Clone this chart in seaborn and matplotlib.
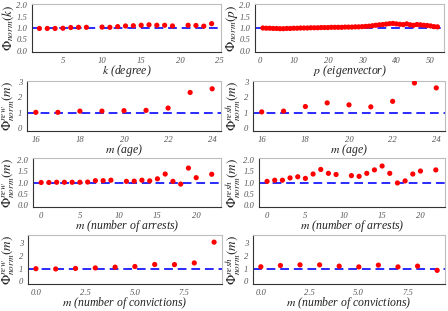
import numpy as np
import pandas as pd
import matplotlib
matplotlib.use("Agg")
import matplotlib.pyplot as plt
import seaborn as sns

# ---------------- data ----------------
k_deg = [2, 3, 4, 5, 6, 7, 8, 10, 11, 12, 13, 14, 15, 16, 17, 18, 19, 21, 22, 23, 24]
phi_k = [0.98, 0.98, 0.98, 0.99, 1.02, 1.03, 1.03, 1.04, 1.03, 1.06, 1.09, 1.10, 1.12,
         1.14, 1.12, 1.12, 1.09, 1.12, 1.11, 1.08, 1.19]

p_eig = list(range(1, 53))
phi_p = [1.00, 0.99, 0.99, 0.98, 0.98, 0.97, 0.97, 0.98, 0.98, 0.99, 0.99, 1.00, 1.00,
         1.00, 1.01, 1.01, 1.01, 1.02, 1.02, 1.02, 1.03, 1.03, 1.03, 1.03, 1.04, 1.04,
         1.04, 1.05, 1.05, 1.06, 1.07, 1.08, 1.10, 1.12, 1.14, 1.15, 1.17, 1.19, 1.20,
         1.18, 1.16, 1.15, 1.18, 1.14, 1.12, 1.15, 1.14, 1.12, 1.11, 1.09, 1.06, 1.05]

m_age = [16, 17, 18, 19, 20, 21, 22, 23, 24]
rew_age = [1.02, 1.02, 1.10, 1.10, 1.13, 1.15, 1.30, 2.32, 2.56]
resh_age = [1.05, 1.10, 1.40, 1.64, 1.51, 1.38, 1.74, 2.94, 2.62]

m_arr = [0, 1, 2, 3, 4, 5, 6, 7, 8, 9, 11, 12, 13, 14, 15, 16, 17, 18, 19, 20, 22]
rew_arr = [1.00, 1.00, 1.01, 1.01, 1.01, 1.01, 1.02, 1.08, 1.08, 1.10, 1.05, 1.06, 1.10,
           1.07, 1.16, 1.37, 1.05, 0.93, 1.63, 1.21, 1.36]
resh_arr = [1.05, 1.10, 1.10, 1.20, 1.25, 1.18, 1.37, 1.57, 1.40, 1.35, 1.30, 1.27, 1.40,
            1.55, 1.72, 1.40, 0.98, 1.07, 1.37, 1.50, 1.55]

m_conv = [0, 1, 2, 3, 4, 5, 6, 7, 8, 9]
rew_conv = [1.00, 0.98, 1.02, 1.06, 1.12, 1.17, 1.33, 1.32, 1.45, 3.08]
resh_conv = [1.15, 1.25, 1.30, 1.30, 1.20, 1.14, 1.28, 1.14, 1.20, 0.87]

# ---------------- style ----------------
sns.set_style("white")
plt.rcParams["font.family"] = ["Liberation Serif", "DejaVu Serif"]
plt.rcParams["mathtext.fontset"] = "stix"

W, H = 448, 311
fig = plt.figure(figsize=(W / 100, H / 100), dpi=100)

def add_ax(left, top, right, bottom):
    return fig.add_axes([left / W, 1 - bottom / H, (right - left) / W, (bottom - top) / H])

panels = [
    # x, y, xlabel, ylabel, box, xlim, ylim, xticks, yticks, fmt, label-x
    (k_deg, phi_k, r"$k$ (degree)", r"$\Phi_{norm}(k)$", (32, 4, 221, 52),
     (1.05, 25.2), (-0.05, 2.05), [5, 10, 15, 20, 25], [0.0, 0.5, 1.0, 1.5, 2.0], "{:.1f}", 8),
    (p_eig, phi_p, r"$p$ (eigenvector)", r"$\Phi_{norm}(p)$", (255, 4, 444, 52),
     (-1.3, 53.9), (-0.05, 2.05), [0, 10, 20, 30, 40, 50], [0.0, 0.5, 1.0, 1.5, 2.0], "{:.1f}", 232),
    (m_age, rew_age, r"$m$ (age)", r"$\Phi^{rew}_{norm}(m)$", (27, 81, 221, 131),
     (15.6, 24.4), (-0.2, 3.07), [16, 18, 20, 22, 24], [0, 1, 2, 3], "{:.0f}", 9),
    (m_age, resh_age, r"$m$ (age)", r"$\Phi^{resh}_{norm}(m)$", (253, 81, 445, 131),
     (15.6, 24.4), (-0.2, 3.07), [16, 18, 20, 22, 24], [0, 1, 2, 3], "{:.0f}", 233),
    (m_arr, rew_arr, r"$m$ (number of arrests)", r"$\Phi^{rew}_{norm}(m)$", (33, 158, 221, 207),
     (-1.05, 23.2), (-0.07, 2.07), [0, 5, 10, 15, 20], [0.0, 0.5, 1.0, 1.5, 2.0], "{:.1f}", 9),
    (m_arr, resh_arr, r"$m$ (number of arrests)", r"$\Phi^{resh}_{norm}(m)$", (259, 158, 445, 207),
     (-1.05, 23.2), (-0.07, 2.07), [0, 5, 10, 15, 20], [0.0, 0.5, 1.0, 1.5, 2.0], "{:.1f}", 233),
    (m_conv, rew_conv, r"$m$ (number of convictions)", r"$\Phi^{rew}_{norm}(m)$", (28, 235, 222, 284),
     (-0.4, 9.4), (-0.2, 3.64), [0.0, 2.5, 5.0, 7.5], [0, 1, 2, 3], "{:.0f}", 9),
    (m_conv, resh_conv, r"$m$ (number of convictions)", r"$\Phi^{resh}_{norm}(m)$", (253, 235, 445, 284),
     (-0.4, 9.4), (-0.2, 3.64), [0.0, 2.5, 5.0, 7.5], [0, 1, 2, 3], "{:.0f}", 233),
]

dark = "#333333"
light = "#bdbdbd"
for (xs, ys, xl, yl, box, xlim, ylim, xt, yt, yfmt, lx) in panels:
    ax = add_ax(*box[:4])
    ax.axhline(1.0, color="#2a2aff", lw=1.4, ls=(0, (4.5, 2.5)), zorder=1)
    df = pd.DataFrame({"x": xs, "y": ys})
    sns.scatterplot(data=df, x="x", y="y", ax=ax, color="#ff0000", s=14,
                    edgecolor="none", linewidth=0, zorder=3)
    ax.set_xlim(*xlim)
    ax.set_ylim(*ylim)
    ax.set_xticks(xt)
    if isinstance(xt[0], float):
        ax.set_xticklabels([f"{v:.1f}" for v in xt])
    else:
        ax.set_xticklabels([str(v) for v in xt])
    ax.set_yticks(yt)
    ax.set_yticklabels([yfmt.format(v) for v in yt])
    for lab in ax.get_xticklabels() + ax.get_yticklabels():
        lab.set_fontstyle("italic")
        lab.set_fontsize(6.2)
        lab.set_color("#555555")
    ax.tick_params(axis="both", length=2.5, width=0.6, color="#555555", pad=1.0)
    ax.set_xlabel(xl, fontsize=8.5, style="italic", color="#222222", labelpad=-1.0)
    ax.set_ylabel(yl, fontsize=9.5, color="#222222", va="center")
    left = box[0]
    ax.yaxis.set_label_coords((lx - left) / (box[2] - left), 0.5)
    for name, sp in ax.spines.items():
        sp.set_color(dark if name in ("left", "bottom") else light)
        sp.set_linewidth(0.8)

fig.savefig("out.png", dpi=100)
